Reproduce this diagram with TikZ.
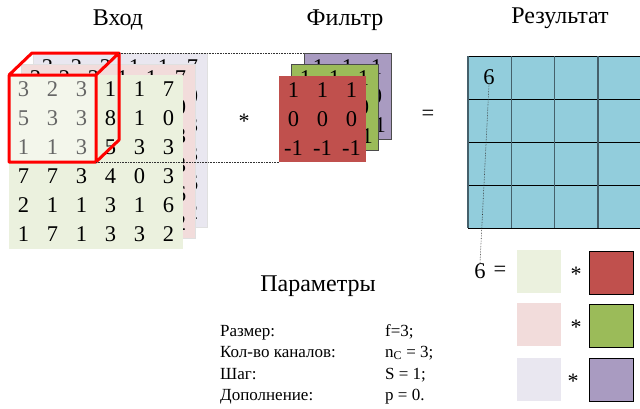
\documentclass[tikz,border=0pt]{standalone}
\usepackage{fontspec}
\setmainfont{Liberation Serif}
\definecolor{chGreen}{HTML}{EBF1DE}
\definecolor{chPink}{HTML}{F2DCDB}
\definecolor{chLav}{HTML}{E9E7F0}
\definecolor{fRed}{HTML}{C0504D}
\definecolor{fGreen}{HTML}{9BBB59}
\definecolor{fPurple}{HTML}{A99BC1}
\definecolor{resBlue}{HTML}{92CDDC}
\definecolor{resLine}{HTML}{45606B}
\definecolor{cubeRed}{HTML}{FF0000}
\newcommand{\inmatrix}[3]{% #1 = x, #2 = y of top-left corner, #3 = name prefix
  \foreach \rw [count=\i from 0] in {{3,2,3,1,1,7},{5,3,3,8,1,0},{1,1,3,5,3,3},{7,7,3,4,0,3},{2,1,1,3,1,6},{1,7,1,3,3,2}}{
    \foreach \v [count=\j from 0] in \rw {
      \node[digit] (#3-\i-\j) at ({#1+14.5+29*\j},{#2+14.5+29*\i}) {\v};
    }
  }
}
\newcommand{\filtmatrix}[3]{%
  \foreach \rw [count=\i from 0] in {{1,1,1},{0,0,0},{-1,-1,-1}}{
    \foreach \v [count=\j from 0] in \rw {
      \node[digit] (#3-\i-\j) at ({#1+14.5+29*\j},{#2+14.5+29*\i}) {\v};
    }
  }
}
\begin{document}
\begin{tikzpicture}[x=1pt,y=-1pt,
  digit/.style={inner sep=0pt, font=\fontsize{22.5}{22.5}\selectfont},
  title/.style={anchor=base, inner sep=0pt, font=\fontsize{24}{24}\selectfont},
  layer/.style={anchor=north west, inner sep=0pt, outer sep=0pt, minimum width=174pt, minimum height=174pt, draw=black!12, line width=0.5pt},
  filt/.style={anchor=north west, inner sep=0pt, outer sep=0pt, minimum width=87pt, minimum height=86pt, draw=black!70, line width=0.6pt},
  chan/.style={anchor=north west, inner sep=0pt, outer sep=0pt, minimum width=44pt, minimum height=43pt},
  kern/.style={chan, draw=black, line width=0.8pt},
  star/.style={anchor=base, inner sep=0pt, font=\fontsize{22}{22}\selectfont},
  param/.style={anchor=base west, inner sep=0pt, font=\fontsize{17}{17}\selectfont},
  guide/.style={densely dotted, line width=0.6pt, black!80},
]
\useasboundingbox (0,0) rectangle (640,408);

% titles
\node[title] (tIn) at (118,25) {Вход};
\node[title] (tFilt) at (345,25) {Фильтр};
\node[title] (tRes) at (560,23) {Результат};

% input volume: three channels, back to front
\node[layer, fill=chLav] (inLav) at (33,53) {};
\inmatrix{33}{53}{lv}
\node[layer, fill=chPink] (inPink) at (21,64) {};
\inmatrix{21}{64}{pk}
\node[layer, fill=chGreen, draw=none] (inGreen) at (9,75) {};
\inmatrix{9}{75}{gr}

% receptive field cube
\node[anchor=north west, inner sep=0pt, outer sep=0pt, minimum width=87pt, minimum height=87pt,
      fill=white, fill opacity=0.4] (cubeFront) at (9,75) {};
\coordinate (cubeBL) at (32,53);
\coordinate (cubeBR) at (119,53);
\coordinate (cubeBD) at (119,140);
\draw[cubeRed, line width=3pt, line join=round]
  (cubeFront.north west) -- (cubeBL) -- (cubeBR) -- (cubeFront.north east)
  (cubeBR) -- (cubeBD) -- (cubeFront.south east)
  (cubeFront.north west) rectangle (cubeFront.south east);

% filter: three channels, back to front
\node[filt, fill=fPurple] (fP) at (304,53) {};
\filtmatrix{304}{53}{fp}
\node[filt, fill=fGreen] (fG) at (291,64) {};
\filtmatrix{291}{64}{fg}
\node[filt, fill=fRed, draw=none] (fR) at (279,76) {};
\filtmatrix{279}{76}{fr}

% projection of the cube onto the filter
\draw[guide] (cubeBR) -- (fP.north west);
\draw[guide] (cubeFront.south east) -- (fR.south west);

\node[star] (conv) at (244,128.5) {*};
\node[digit] (eqTop) at (428,115) {=};

% output map
\node[anchor=north west, inner sep=0pt, outer sep=0pt, minimum width=174pt, minimum height=172pt, fill=resBlue] (res) at (468,56) {};
\foreach \k in {0,...,4}
  \draw[black, line width=0.9pt] (468,{56+43*\k}) -- (642,{56+43*\k});
\foreach \k in {0,...,3}
  \draw[resLine, line width=1.4pt] ({468+43.3*\k},56) -- ({468+43.3*\k},228);
\node[digit] (res6) at (489,77) {6};

% breakdown of the first output value
\node[digit] (sum6) at (480,271) {6};
\node[digit] (sumEq) at (500,271) {=};
\draw[guide] (res6.south) -- (sum6.north);

\node[chan, fill=chGreen] (cG) at (517,250) {};
\node[chan, fill=chPink] (cP) at (517,303) {};
\node[chan, fill=chLav] (cL) at (517,358) {};
\node[star] (s1) at (576,281) {*};
\node[star] (s2) at (576,334) {*};
\node[star] (s3) at (573,388) {*};
\node[kern, fill=fRed] (kR) at (589,251) {};
\node[kern, fill=fGreen] (kG) at (589,304) {};
\node[kern, fill=fPurple] (kP) at (589,358) {};

% parameters
\node[anchor=base, inner sep=0pt, font=\fontsize{24}{24}\selectfont] (pTitle) at (318,291) {Параметры};
\node[param] (p1) at (220,336) {Размер:};
\node[param] (p2) at (220,357) {Кол-во каналов:};
\node[param] (p3) at (220,379) {Шаг:};
\node[param] (p4) at (220,400) {Дополнение:};
\node[param] (v1) at (385,336) {f=3;};
\node[param] (v2) at (385,357) {n\textsubscript{C} = 3;};
\node[param] (v3) at (385,379) {S = 1;};
\node[param] (v4) at (385,400) {p = 0.};
\end{tikzpicture}
\end{document}
